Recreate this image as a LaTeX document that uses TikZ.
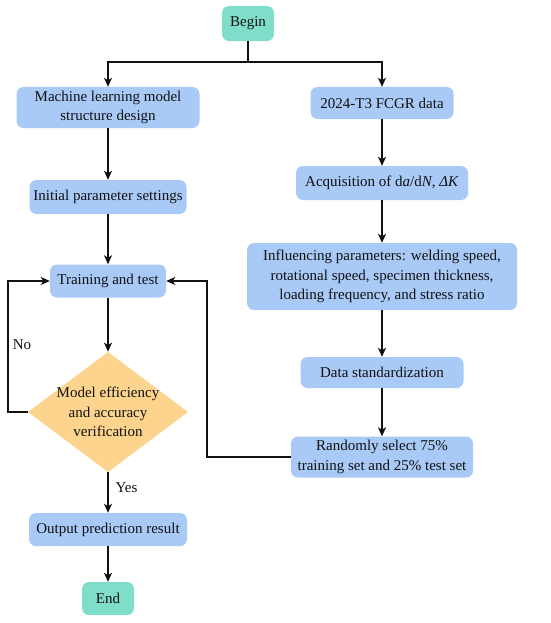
\documentclass[tikz,border=0pt]{standalone}
\usepackage{fontspec}
\setmainfont{Liberation Serif}
\usetikzlibrary{arrows.meta,shapes.geometric}
\definecolor{boxblue}{HTML}{A9CAF7}
\definecolor{boxteal}{HTML}{80DDCA}
\definecolor{boxorange}{HTML}{FCD48E}
\definecolor{ink}{HTML}{111111}
\begin{document}
\begin{tikzpicture}[x=1pt,y=-1pt,
  font=\fontsize{15}{19.5}\selectfont,
  proc/.style={fill=boxblue, rounded corners=7pt, align=center, inner sep=2pt, text=ink},
  term/.style={fill=boxteal, rounded corners=7pt, align=center, inner sep=2pt, text=ink},
  dec/.style={diamond, fill=boxorange, align=center, inner sep=-8pt, text=ink},
  arr/.style={draw=ink, line width=1.9pt, -{Stealth[length=9pt,width=8pt,inset=2.5pt]}},
  plain/.style={draw=ink, line width=1.9pt}]
\useasboundingbox (0,0) rectangle (550,623);

\node[term, minimum width=52pt, minimum height=35pt] (begin) at (248,23.5) {Begin};
\node[proc, minimum width=183pt, minimum height=41pt] (ml) at (108,107.5) {Machine learning model\\structure design};
\node[proc, minimum width=143pt, minimum height=32pt] (p24) at (382,103) {2024-T3 FCGR data};
\node[proc, minimum width=172pt, minimum height=34pt] (acq) at (382,183) {Acquisition of d\textit{a}/d\textit{N}, \textit{ΔK}};
\node[proc, minimum width=157pt, minimum height=34pt] (init) at (108,197) {Initial parameter settings};
\node[proc, minimum width=116pt, minimum height=33pt] (train) at (108,281) {Training and test};
\node[proc, minimum width=270pt, minimum height=67pt] (infl) at (382,276.5) {Influencing parameters: welding speed,\\rotational speed, specimen thickness,\\loading frequency, and stress ratio};
\node[proc, minimum width=163pt, minimum height=31pt] (std) at (382,372.5) {Data standardization};
\node[proc, minimum width=182pt, minimum height=41pt] (rand) at (382,457) {Randomly select 75\%\\training set and 25\% test set};
\node[dec, minimum width=160pt, minimum height=119pt] (ver) at (108,412) {Model efficiency\\and accuracy\\verification};
\node[proc, minimum width=158pt, minimum height=33pt] (out) at (108,529.5) {Output prediction result};
\node[term, minimum width=52pt, minimum height=33pt] (end) at (108,598.5) {End};

\node[text=ink] (no) at (22,345) {No};
\node[text=ink] (yes) at (126.5,488) {Yes};

\coordinate (split) at (248,62);
\coordinate (lx) at (8,0);
\coordinate (rx) at (207,0);

\draw[plain] (begin.south) -- (split);
\draw[arr] (split) -| (ml.north);
\draw[arr] (split) -| (p24.north);
\draw[arr] (ml) -- (init);
\draw[arr] (init) -- (train);
\draw[arr] (train) -- (ver);
\draw[arr] (ver) -- (out);
\draw[arr] (out) -- (end);
\draw[arr] (p24) -- (acq);
\draw[arr] (acq) -- (infl);
\draw[arr] (infl) -- (std);
\draw[arr] (std) -- (rand);
\draw[arr] (ver.west) -- (ver.west -| lx) |- (train.west);
\draw[arr] (rand.west) -- (rand.west -| rx) |- (train.east);
\end{tikzpicture}
\end{document}
